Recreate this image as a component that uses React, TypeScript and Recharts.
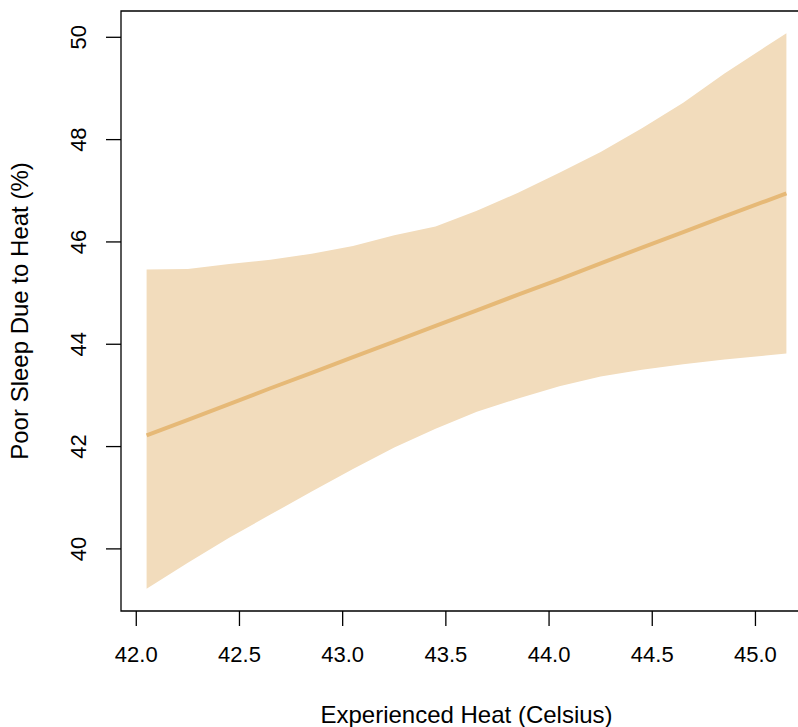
import {
  ComposedChart,
  Area,
  Line,
  XAxis,
  YAxis,
  ReferenceArea,
} from "recharts";

// experienced heat (celsius)
const heat = [
  42.05, 42.25, 42.45, 42.65, 42.85, 43.05, 43.25, 43.45, 43.65, 43.85, 44.05,
  44.25, 44.45, 44.65, 44.85, 45.05, 45.15,
];
// fitted poor sleep (%)
const fit = [
  42.22, 42.52, 42.83, 43.14, 43.44, 43.75, 44.05, 44.36, 44.66, 44.97, 45.27,
  45.58, 45.89, 46.19, 46.5, 46.8, 46.95,
];
// confidence band
const lower = [
  39.22, 39.73, 40.22, 40.67, 41.12, 41.56, 41.98, 42.35, 42.68, 42.94, 43.18,
  43.37, 43.5, 43.61, 43.7, 43.78, 43.82,
];
const upper = [
  45.46, 45.47, 45.57, 45.65, 45.77, 45.92, 46.13, 46.3, 46.61, 46.96, 47.35,
  47.76, 48.22, 48.72, 49.29, 49.82, 50.08,
];

const xTicks = [42, 42.5, 43, 43.5, 44, 44.5, 45];
const yTicks = [40, 42, 44, 46, 48, 50];

const xDomain: [number, number] = [41.926, 45.274];
const yDomain: [number, number] = [38.786, 50.514];

const font = "'Liberation Sans', Arial, Helvetica, sans-serif";

const data = heat.map((h, i) => ({
  heat: h,
  fit: fit[i],
  band: [lower[i], upper[i]],
}));

const XTick = ({ x, y, payload }: any) => (
  <text x={x} y={y + 34} textAnchor="middle" fontSize={22} fill="#000" fontFamily={font}>
    {Number(payload.value).toFixed(1)}
  </text>
);

const YTick = ({ y, payload }: any) => (
  <text
    x={86}
    y={y}
    transform={`rotate(-90, 86, ${y})`}
    textAnchor="middle"
    fontSize={22}
    fill="#000"
    fontFamily={font}
  >
    {payload.value}
  </text>
);

export default function App() {
  return (
    <div
      style={{
        position: "fixed",
        left: 0,
        top: 0,
        width: 798,
        height: 727,
        overflow: "hidden",
        background: "#fff",
      }}
    >
      <ComposedChart
        width={830}
        height={727}
        data={data}
        margin={{ top: 11, right: 18, left: 0, bottom: 0 }}
      >
        <XAxis
          type="number"
          dataKey="heat"
          domain={xDomain}
          allowDataOverflow
          ticks={xTicks}
          tick={<XTick />}
          tickSize={15}
          tickLine={{ stroke: "#000", strokeWidth: 1.3 }}
          axisLine={false}
          height={116}
          label={{
            content: ({ viewBox }: any) => (
              <text
                x={viewBox.x + viewBox.width / 2}
                y={723}
                textAnchor="middle"
                fontSize={24}
                fill="#000"
                fontFamily={font}
              >
                Experienced Heat (Celsius)
              </text>
            ),
          }}
        />
        <YAxis
          type="number"
          domain={yDomain}
          allowDataOverflow
          ticks={yTicks}
          tick={<YTick />}
          tickSize={15}
          tickLine={{ stroke: "#000", strokeWidth: 1.3 }}
          axisLine={false}
          width={121}
          label={{
            content: ({ viewBox }: any) => {
              const cy = viewBox.y + viewBox.height / 2;
              return (
                <text
                  x={28}
                  y={cy}
                  transform={`rotate(-90, 28, ${cy})`}
                  textAnchor="middle"
                  fontSize={24}
                  fill="#000"
                  fontFamily={font}
                >
                  Poor Sleep Due to Heat (%)
                </text>
              );
            },
          }}
        />
        <Area
          dataKey="band"
          type="linear"
          stroke="none"
          fill="#F2DCBC"
          fillOpacity={1}
          isAnimationActive={false}
        />
        <Line
          dataKey="fit"
          type="linear"
          stroke="#E6B977"
          strokeWidth={4}
          dot={false}
          activeDot={false}
          isAnimationActive={false}
        />
        <ReferenceArea
          x1={xDomain[0]}
          x2={xDomain[1]}
          y1={yDomain[0]}
          y2={yDomain[1]}
          fill="none"
          stroke="#000"
          strokeWidth={1.3}
          ifOverflow="visible"
        />
      </ComposedChart>
    </div>
  );
}
